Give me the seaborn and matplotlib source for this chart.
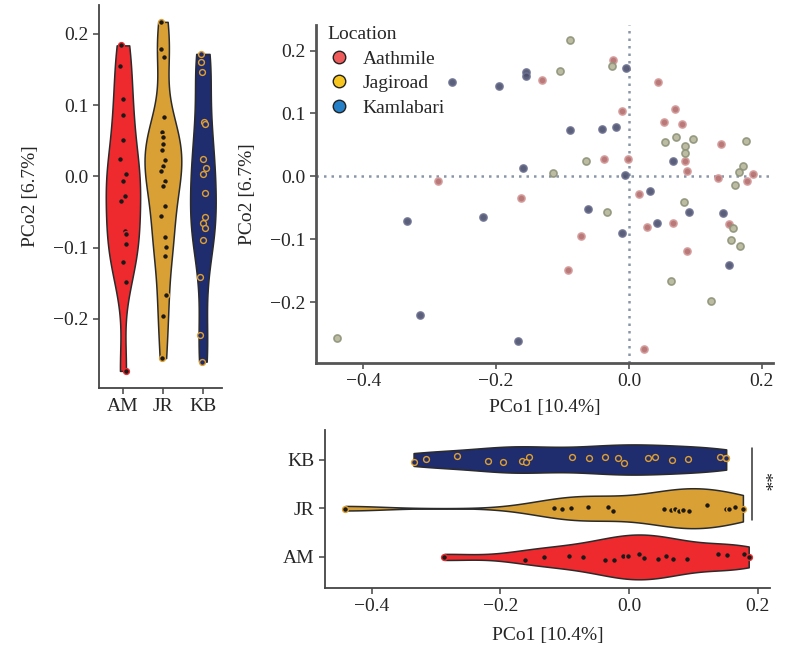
import pandas as pd
import matplotlib.pyplot as plt
from matplotlib.lines import Line2D
import seaborn as sns
import numpy as np

sns.set_style("ticks")
plt.rcParams['font.family'] = ['Liberation Serif', 'DejaVu Serif']
fontsize = 14

groups = ["AM", "JR", "KB"]
names = ["Aathmile", "Jagiroad", "Kamlabari"]

# PCo2 values shown in the left violin
pco2_am = [0.184, 0.155, 0.109, 0.086, 0.051, 0.025, 0.004, -0.006, -0.027, -0.034,
           -0.076, -0.081, -0.095, -0.120, -0.148, -0.273]
pco2_jr = [0.217, 0.179, 0.168, 0.084, 0.063, 0.056, 0.046, 0.037, 0.023, 0.015, 0.008,
           -0.006, -0.014, -0.041, -0.056, -0.085, -0.099, -0.111, -0.166, -0.196, -0.255]
pco2_kb = [0.172, 0.160, 0.146, 0.077, 0.074, 0.024, 0.012, 0.003, -0.023, -0.057,
           -0.066, -0.073, -0.089, -0.141, -0.222, -0.260]

# PCo1 values shown in the bottom violin
pco1_am = [-0.287, -0.162, -0.133, -0.093, -0.072, -0.038, -0.023, -0.009, -0.001, 0.016,
           0.024, 0.045, 0.057, 0.068, 0.090, 0.138, 0.153, 0.178, 0.186]
pco1_jr = [-0.441, -0.116, -0.105, -0.090, -0.064, -0.033, -0.025, 0.055, 0.065, 0.072,
           0.078, 0.084, 0.093, 0.121, 0.151, 0.156, 0.164, 0.177]
pco1_kb = [-0.335, -0.316, -0.267, -0.220, -0.196, -0.166, -0.160, -0.155, -0.088, -0.062,
           -0.038, -0.017, -0.008, 0.030, 0.041, 0.066, 0.091, 0.142, 0.150, 0.151]

# PCoA scatter
sc_am_x = [-0.024, -0.131, 0.043, -0.011, 0.069, 0.053, 0.080, 0.138, -0.038, -0.001, 0.085,
           0.088, 0.134, 0.177, 0.186, -0.287, 0.015, -0.163, 0.066, 0.027, 0.150, -0.072,
           0.088, -0.092, 0.023]
sc_am_y = [0.185, 0.153, 0.150, 0.104, 0.107, 0.086, 0.083, 0.051, 0.028, 0.027, 0.025,
           0.008, -0.003, -0.008, 0.004, -0.008, -0.028, -0.035, -0.075, -0.081, -0.076,
           -0.095, -0.119, -0.149, -0.274]
sc_jr_x = [-0.089, -0.025, -0.104, 0.071, 0.097, 0.055, 0.085, 0.085, 0.176, -0.065, -0.114,
           0.172, 0.166, 0.159, 0.083, -0.033, 0.157, 0.153, 0.167, 0.063, 0.123, -0.440]
sc_jr_y = [0.217, 0.175, 0.168, 0.063, 0.060, 0.055, 0.048, 0.037, 0.057, 0.025, 0.005,
           0.016, 0.007, -0.013, -0.041, -0.056, -0.083, -0.101, -0.111, -0.166, -0.198, -0.257]
sc_kb_x = [-0.005, -0.155, -0.155, -0.267, -0.195, -0.088, -0.040, -0.020, 0.066, -0.160,
           -0.006, 0.031, -0.061, 0.090, 0.142, -0.334, -0.220, 0.042, -0.010, 0.151, -0.314,
           -0.167]
sc_kb_y = [0.172, 0.166, 0.159, 0.150, 0.144, 0.073, 0.075, 0.078, 0.024, 0.013, 0.002,
           -0.024, -0.052, -0.056, -0.059, -0.071, -0.064, -0.075, -0.090, -0.141, -0.221,
           -0.262]

violin_colors = {"AM": "#ee2a2e", "JR": "#d8a035", "KB": "#1f2c6e"}
dot_face = {"AM": "#1a1a1a", "JR": "#1a1a1a", "KB": "#1f2c6e"}
dot_edge = {"AM": "#ee2a2e", "JR": "#e0a030", "KB": "#e0a030"}
sc_face = {"AM": "#b36a6a", "JR": "#b4b598", "KB": "#4a4e6a"}
sc_edge = {"AM": "#d49a9a", "JR": "#8e937a", "KB": "#6c7090"}
legend_colors = ["#ef5b5b", "#f6c51f", "#2580c8"]
# max violin width per group (left panel / bottom panel)
width_l = {"AM": 0.86, "JR": 0.92, "KB": 0.64}
width_b = {"AM": 0.92, "JR": 0.82, "KB": 0.62}

df_y = pd.DataFrame({
    "grp": ["AM"] * len(pco2_am) + ["JR"] * len(pco2_jr) + ["KB"] * len(pco2_kb),
    "val": pco2_am + pco2_jr + pco2_kb,
})
df_x = pd.DataFrame({
    "grp": ["AM"] * len(pco1_am) + ["JR"] * len(pco1_jr) + ["KB"] * len(pco1_kb),
    "val": pco1_am + pco1_jr + pco1_kb,
})
df_sc = pd.DataFrame({
    "pco1": sc_am_x + sc_jr_x + sc_kb_x,
    "pco2": sc_am_y + sc_jr_y + sc_kb_y,
    "grp": ["AM"] * len(sc_am_x) + ["JR"] * len(sc_jr_x) + ["KB"] * len(sc_kb_x),
})

f = plt.figure(figsize=(8.02, 6.63), dpi=100)
ax_l = f.add_axes([0.1234, 0.4148, 0.153, 0.578])
ax_s = f.add_axes([0.394, 0.4525, 0.570, 0.510])
ax_b = f.add_axes([0.405, 0.113, 0.555, 0.238])

################ left violin (PCo2) ################
for g in groups:
    d = df_y[df_y.grp == g]
    sns.violinplot(data=d, x="grp", y="val", order=groups, color=violin_colors[g],
                   cut=0, bw_adjust=0.65, inner=None, width=width_l[g], linewidth=1.1,
                   linecolor="#2b2b2b", saturation=1, density_norm="width", ax=ax_l)
for g in groups:
    sns.stripplot(data=df_y[df_y.grp == g], x="grp", y="val", order=groups, jitter=0.08,
                  color=dot_face[g], edgecolor=dot_edge[g], linewidth=1, size=4.2,
                  ax=ax_l, zorder=3)
ax_l.set_xlim(-0.6, 2.47)
ax_l.set_ylim(-0.297, 0.241)
ax_l.set_yticks([-0.2, -0.1, 0.0, 0.1, 0.2])
ax_l.set_xlabel("")
ax_l.set_ylabel("PCo2 [6.7%]", fontsize=fontsize, labelpad=10)
sns.despine(ax=ax_l)

################ scatter ################
for g in groups:
    d = df_sc[df_sc.grp == g]
    sns.scatterplot(data=d, x="pco1", y="pco2", color=sc_face[g], edgecolor=sc_edge[g],
                    linewidth=1.2, s=26, alpha=0.9, legend=False, ax=ax_s, zorder=3)
ax_s.axhline(0, color="#8a96a8", ls=(0, (1, 2)), lw=1.8, zorder=1)
ax_s.axvline(0, color="#8a96a8", ls=(0, (1, 2)), lw=1.8, zorder=1)
ax_s.set_xlim(-0.471, 0.217)
ax_s.set_ylim(-0.297, 0.241)
ax_s.set_xticks([-0.4, -0.2, 0.0, 0.2])
ax_s.set_yticks([-0.2, -0.1, 0.0, 0.1, 0.2])
ax_s.set_xlabel("PCo1 [10.4%]", fontsize=fontsize, labelpad=6)
ax_s.set_ylabel("PCo2 [6.7%]", fontsize=fontsize, labelpad=10)
sns.despine(ax=ax_s)
for sp in ["left", "bottom"]:
    ax_s.spines[sp].set_linewidth(2)
    ax_s.spines[sp].set_color("#555555")
handles = [Line2D([], [], ls="", marker="o", markersize=9, markerfacecolor=c,
                  markeredgecolor="#222222", markeredgewidth=1) for c in legend_colors]
leg = ax_s.legend(handles, names, title="Location", loc="upper left",
                  bbox_to_anchor=(0.0, 1.03), frameon=False, fontsize=fontsize,
                  title_fontsize=fontsize, alignment="left", labelspacing=0.35,
                  handletextpad=0.6, borderaxespad=0.2, handlelength=1.2)

################ bottom violin (PCo1) ################
order_b = ["KB", "JR", "AM"]
for g in groups:
    d = df_x[df_x.grp == g]
    sns.violinplot(data=d, x="val", y="grp", order=order_b, color=violin_colors[g],
                   cut=0, bw_adjust=0.7, inner=None, width=width_b[g], linewidth=1.1,
                   linecolor="#2b2b2b", saturation=1, density_norm="width", orient="h",
                   ax=ax_b)
for g in groups:
    sns.stripplot(data=df_x[df_x.grp == g], x="val", y="grp", order=order_b, jitter=0.07,
                  color=dot_face[g], edgecolor=dot_edge[g], linewidth=1, size=4.2,
                  orient="h", ax=ax_b, zorder=3)
ax_b.set_xlim(-0.473, 0.219)
ax_b.set_ylim(2.64, -0.6)
ax_b.set_xticks([-0.4, -0.2, 0.0, 0.2])
ax_b.set_xlabel("PCo1 [10.4%]", fontsize=fontsize, labelpad=8)
ax_b.set_ylabel("")
ax_b.plot([0.1907, 0.1907], [-0.23, 1.25], color="#333333", lw=1.1)
ax_b.text(0.2075, 0.45, "**", rotation=-90, ha="center", va="center", fontsize=fontsize)
sns.despine(ax=ax_b)

for ax in [ax_l, ax_b]:
    for sp in ["left", "bottom"]:
        ax.spines[sp].set_linewidth(1.3)
        ax.spines[sp].set_color("#444444")
for ax in [ax_l, ax_s, ax_b]:
    ax.tick_params(labelsize=fontsize, length=4, width=1.1, color="#444444")

f.savefig("out.png", dpi=100)
